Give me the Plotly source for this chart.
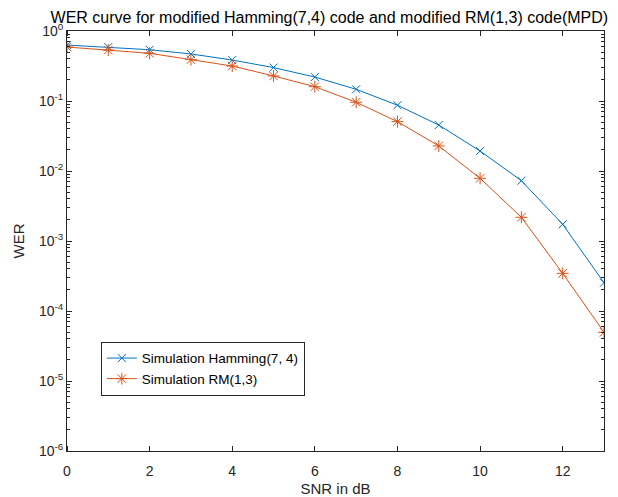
import plotly.graph_objects as go

snr = list(range(0, 14))
wer_hamming = [0.63, 0.59, 0.54, 0.47, 0.385, 0.30, 0.22, 0.147, 0.087, 0.0454, 0.0193, 0.00727, 0.00173, 0.000254]
wer_rm = [0.59, 0.535, 0.48, 0.39, 0.316, 0.228, 0.16, 0.096, 0.0507, 0.0228, 0.00786, 0.00218, 0.000345, 0.0000497]

ytick_vals = [1e-6, 1e-5, 1e-4, 1e-3, 1e-2, 1e-1, 1]
ytick_text = ["10<sup>-6</sup>", "10<sup>-5</sup>", "10<sup>-4</sup>", "10<sup>-3</sup>",
              "10<sup>-2</sup>", "10<sup>-1</sup>", "10<sup>0</sup>"]
xtick_vals = [0, 2, 4, 6, 8, 10, 12]
minor_vals = [m * d for d in ytick_vals[:-1] for m in range(2, 10)]

blue = "#0072BD"
orange = "#D95319"
axis_col = "#262626"
font = "Liberation Sans, Arial, sans-serif"

fig = go.Figure()
fig.add_trace(go.Scatter(x=snr, y=wer_hamming, mode="lines+markers",
                         name="Simulation Hamming(7, 4)",
                         line=dict(color=blue, width=1),
                         marker=dict(symbol="x-thin-open", size=8,
                                     line=dict(color=blue, width=1), color=blue)))
fig.add_trace(go.Scatter(x=snr, y=wer_rm, mode="lines+markers",
                         name="Simulation RM(1,3)",
                         line=dict(color=orange, width=1),
                         marker=dict(symbol="asterisk-open", size=10,
                                     line=dict(color=orange, width=1), color=orange)))

fig.update_layout(
    width=618, height=497,
    margin=dict(l=59, r=22, t=23, b=54),
    paper_bgcolor="white", plot_bgcolor="white",
    font=dict(family=font, size=14, color=axis_col),
    title=dict(text="WER curve for modified Hamming(7,4) code and modified RM(1,3) code(MPD)",
               x=0.52, xanchor="center", y=0.981, yanchor="middle",
               font=dict(size=16, color="black")),
    showlegend=True,
    legend=dict(x=0.063, y=0.26, xanchor="left", yanchor="top",
                bgcolor="white", bordercolor=axis_col, borderwidth=1,
                font=dict(size=13.5, color="black"),
                tracegroupgap=0, itemwidth=30),
    xaxis=dict(range=[0, 13], tickvals=xtick_vals, ticks="outside", ticklen=7,
               tickcolor="rgba(0,0,0,0)", showline=True, linecolor=axis_col, linewidth=1,
               mirror="ticks", showgrid=False, zeroline=False, automargin=False,
               minor=dict(ticks="inside", ticklen=5, tickcolor=axis_col, showgrid=False,
                          tickmode="array", tickvals=xtick_vals),
               title=dict(text="SNR in dB", standoff=5, font=dict(size=15)),
               tickfont=dict(size=14)),
    yaxis=dict(type="log", range=[-6, 0], tickvals=ytick_vals, ticktext=ytick_text,
               ticks="inside", ticklen=5, tickcolor=axis_col, showline=True,
               linecolor=axis_col, linewidth=1, mirror="ticks", showgrid=False,
               zeroline=False, automargin=False,
               minor=dict(ticks="inside", ticklen=3, tickcolor=axis_col, showgrid=False,
                          tickmode="array", tickvals=minor_vals),
               title=dict(text="WER", standoff=10, font=dict(size=15)),
               tickfont=dict(size=14)),
)

fig.write_html("out.html")
